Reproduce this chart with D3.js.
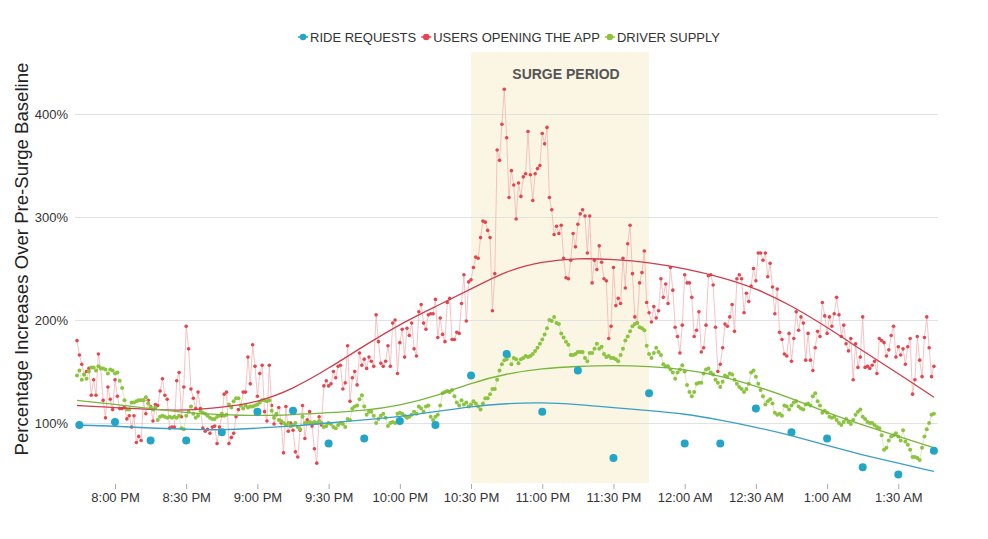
<!DOCTYPE html>
<html><head><meta charset="utf-8">
<script src="https://cdn.jsdelivr.net/npm/d3@7/dist/d3.min.js"></script>
<style>
body{margin:0;background:#fff;}
text{font-family:"Liberation Sans",Arial,Helvetica,sans-serif;}
</style>
</head><body>
<svg id="chart" width="988" height="539"></svg>
<script>
// ---------------- DATA ----------------
const seriesNames = ["RIDE REQUESTS", "USERS OPENING THE APP", "DRIVER SUPPLY"];
const yTickValues = [100, 200, 300, 400];
const xTickMinutes = [0, 30, 60, 90, 120, 150, 180, 210, 240, 270, 300, 330]; // minutes after 8:00 PM
const surgeWindow = [150, 225]; // 10:30 PM .. 11:45 PM (minutes after 8:00 PM)
const surgeLabel = "SURGE PERIOD";
const yTitle = "Percentage Increases Over Pre-Surge Baseline";

// per-minute readings, first one at 7:44 PM (minute -16)
const minuteSeriesStart = -16;
const usersOpeningApp = [
180,166,157,147,150,153,127,142,127,167,153,122,105,135,123,113,
142,126,114,114,115,104,107,96,107,81,
87,83,122,109,122,116,102,118,117,131,
143,127,123,95,96,96,141,149,106,135,
194,172,133,124,114,130,114,95,92,94,
90,96,97,80,96,107,128,130,80,86,
90,106,113,117,130,130,164,138,176,155,
126,148,156,111,102,156,117,99,108,115,
100,71,116,92,100,93,72,67,93,117,
85,103,111,97,75,61,106,98,136,141,
136,138,150,144,155,156,133,139,175,121,
144,150,137,168,156,162,153,164,160,155,
205,179,158,155,160,175,155,197,200,148,
178,191,164,192,185,197,172,165,208,215,
197,191,205,206,206,220,183,202,186,179,
217,221,181,181,188,187,216,244,199,237,
239,251,261,260,280,296,295,287,280,209,
245,365,355,390,424,377,319,345,331,298,
333,320,339,342,383,341,316,342,347,350,
381,371,387,319,307,283,291,284,292,260,
241,240,258,284,271,293,303,307,301,265,
301,236,258,249,272,256,240,238,182,194,
251,214,221,216,260,231,274,292,245,203,
197,236,246,267,217,207,198,213,202,209,
240,222,235,216,251,229,193,184,168,195,
244,236,236,222,184,190,208,169,173,195,
243,244,234,193,150,157,173,196,194,203,
215,189,240,244,240,207,226,218,233,250,
238,265,265,258,265,242,255,232,206,230,
188,181,167,165,187,160,182,208,190,203,
197,161,187,161,151,173,189,184,217,204,
187,203,194,206,222,205,184,195,177,170,
182,142,177,154,164,203,154,155,153,156,
160,148,182,180,178,165,171,185,194,164,
174,166,172,157,174,182,128,142,184,161,
145,183,203,173,145,155
];
const driverSupply = [
146,151,142,147,143,150,154,154,151,155,153,153,152,148,152,151,148,149,141,134,
122,113,113,120,120,121,122,122,122,125,119,115,113,115,103,106,107,106,105,106,
105,106,105,107,95,94,107,111,116,109,105,107,112,110,109,107,105,104,104,106,
107,109,107,108,118,115,121,124,124,117,114,117,115,
116,116,117,118,120,122,122,121,122,112,105,109,103,102,100,98,100,97,98,100,
96,94,106,100,100,101,100,101,100,102,100,96,97,100,99,96,95,98,100,99,
96,104,103,114,116,117,123,127,116,108,111,111,107,100,104,107,109,105,97,100,
101,100,109,110,109,107,105,106,108,111,109,116,114,111,116,117,
106,103,106,108,117,129,130,131,130,132,126,120,117,122,118,120,116,118,121,119,
116,113,119,124,124,128,133,133,142,151,157,161,162,165,157,163,162,158,162,163,
165,164,165,167,170,173,177,181,186,192,200,199,203,197,196,187,183,179,176,166,
166,167,169,
169,169,163,160,168,168,172,177,172,174,167,164,165,163,163,162,160,166,172,180,
184,189,194,196,197,193,192,190,175,167,163,168,173,169,166,157,155,155,152,149,
143,149,152,156,150,137,130,126,130,138,139,139,148,152,153,149,147,142,139,135,
140,146,145,148,147,142,138,135,133,130,133,
138,149,151,145,138,132,126,118,121,123,119,110,108,109,107,117,116,113,117,120,
121,116,114,113,118,119,117,126,129,121,117,110,112,110,106,105,106,103,100,98,
101,104,101,99,103,108,111,113,106,104,101,100,100,98,96,95,88,74,76,83,
87,88,90,87,83,93,82,79,74,67,67,66,64,76,87,94,100,108,109
];

// quarter-hour readings, first one at 7:45 PM (minute -15)
const rideRequestStart = -15;
const rideRequestStep = 15;
const rideRequests = [98,101,83,83,91,111,112,80,85,102,98,146,167,111,151,66,129,80,80,114,91,85,57,50,73];

// smoothed trend readings (minutes after 8:00 PM)
const trendMinutes = [-16,0,15,30,45,60,75,90,105,120,135,150,165,180,195,210,225,240,255,270,285,300,315,330,345];
const usersTrend   = [117,115,113,112,115,120,133,153,175,196,213,230,248,257,260,259,256,250,242,231,214,193,170,148,125];
const driverTrend  = [122,118,114,110,108,107,108,110,112,117,126,139,148,153,155,156,155,152,146,136,124,110,98,87,76];
const rideTrend    = [98,97,95,94,93,95,97,100,103,106,111,116,119,120,118,115,112,109,103,96,88,78,69,61,53];

// ---------------- STYLE ----------------
const colors = { ride: "#22a5c6", users: "#e5454d", driver: "#8cc43f" };
const trendColors = { ride: "#3a9fc6", users: "#cf3c4c", driver: "#7ab53c" };

// ---------------- CHART ----------------
const base = new Date(2020, 0, 1, 20, 0, 0);
const at = m => new Date(base.getTime() + m * 60000);

const svg = d3.select("#chart");
const x = d3.scaleTime().domain([at(0), at(330)]).range([115, 898.3]);
const y = d3.scaleLinear().domain([100, 400]).range([423, 114]);

const plotLeft = 75, plotRight = 938, bandTop = 52, bandBottom = 483;

// surge band
svg.append("rect")
  .attr("x", x(at(surgeWindow[0])))
  .attr("y", bandTop)
  .attr("width", x(at(surgeWindow[1])) - x(at(surgeWindow[0])))
  .attr("height", bandBottom - bandTop)
  .attr("fill", "#faf6e3");

// gridlines + y labels
const yAxis = d3.axisLeft(y).tickValues(yTickValues).tickFormat(d => d + "%")
  .tickSize(-(plotRight - plotLeft)).tickPadding(7);
const gy = svg.append("g").attr("transform", `translate(${plotLeft},0)`).call(yAxis);
gy.select(".domain").remove();
gy.selectAll(".tick line").attr("stroke", "#e2e2e2").attr("stroke-width", 1);
gy.selectAll(".tick text").attr("fill", "#333").attr("font-size", 13);

// x axis
const xAxis = d3.axisBottom(x).tickValues(xTickMinutes.map(at))
  .tickFormat(d3.timeFormat("%-I:%M %p")).tickSize(5).tickPadding(4);
const gx = svg.append("g").attr("transform", "translate(0,484)").call(xAxis);
gx.select(".domain").remove();
gx.selectAll(".tick line").attr("stroke", "#aaa");
gx.selectAll(".tick text").attr("fill", "#333").attr("font-size", 13);

// y title
svg.append("text")
  .attr("transform", "translate(28,259) rotate(-90)")
  .attr("text-anchor", "middle")
  .attr("font-size", 18.6)
  .attr("fill", "#222")
  .text(yTitle);

// surge label
svg.append("text")
  .attr("x", 566).attr("y", 79)
  .attr("text-anchor", "middle")
  .attr("font-size", 14).attr("font-weight", "bold")
  .attr("fill", "#555")
  .text(surgeLabel);

// per-minute series
const usersData = usersOpeningApp.map((v, i) => ({ t: at(minuteSeriesStart + i), v }));
const driverData = driverSupply.map((v, i) => ({ t: at(minuteSeriesStart + i), v }));
const rideData = rideRequests.map((v, i) => ({ t: at(rideRequestStart + i * rideRequestStep), v }));

const line = d3.line().x(d => x(d.t)).y(d => y(d.v));

svg.append("path").datum(usersData).attr("d", line)
  .attr("fill", "none").attr("stroke", "#f2b4b6").attr("stroke-width", 0.8);
svg.append("g").selectAll("circle").data(usersData).join("circle")
  .attr("cx", d => x(d.t)).attr("cy", d => y(d.v)).attr("r", 1.8)
  .attr("fill", colors.users);

svg.append("path").datum(driverData).attr("d", line)
  .attr("fill", "none").attr("stroke", "#cfe6b2").attr("stroke-width", 0.8);
svg.append("g").selectAll("circle").data(driverData).join("circle")
  .attr("cx", d => x(d.t)).attr("cy", d => y(d.v)).attr("r", 2)
  .attr("fill", colors.driver);

// trend lines
const trendLine = d3.line().curve(d3.curveBasis).x(d => x(d.t)).y(d => y(d.v));
[[usersTrend, trendColors.users], [driverTrend, trendColors.driver], [rideTrend, trendColors.ride]]
  .forEach(([arr, c]) => {
    svg.append("path").datum(arr.map((v, i) => ({ t: at(trendMinutes[i]), v })))
      .attr("d", trendLine).attr("fill", "none").attr("stroke", c).attr("stroke-width", 1.3);
  });

// ride requests
svg.append("g").selectAll("circle").data(rideData).join("circle")
  .attr("cx", d => x(d.t)).attr("cy", d => y(d.v)).attr("r", 4)
  .attr("fill", colors.ride);

// legend
const legend = svg.append("g").attr("transform", "translate(0,37)");
const legendColors = [colors.ride, colors.users, colors.driver];
let lx = 0;
const items = [];
seriesNames.forEach((name, i) => {
  const g = legend.append("g");
  g.append("line").attr("x1", -5).attr("x2", 5).attr("y1", 0).attr("y2", 0)
    .attr("stroke", legendColors[i]).attr("stroke-width", 1.5);
  g.append("circle").attr("r", 3.2).attr("fill", legendColors[i]);
  const t = g.append("text").attr("x", 7).attr("y", 4.5).attr("font-size", 13)
    .attr("fill", "#333").text(name);
  const w = t.node().getComputedTextLength();
  items.push({ g, x: lx });
  lx += 7 + w + 10;
});
const total = lx - 10 + 5;
const startX = 509 - total / 2 + 5;
items.forEach(it => it.g.attr("transform", `translate(${startX + it.x},0)`));
</script>
</body></html>
